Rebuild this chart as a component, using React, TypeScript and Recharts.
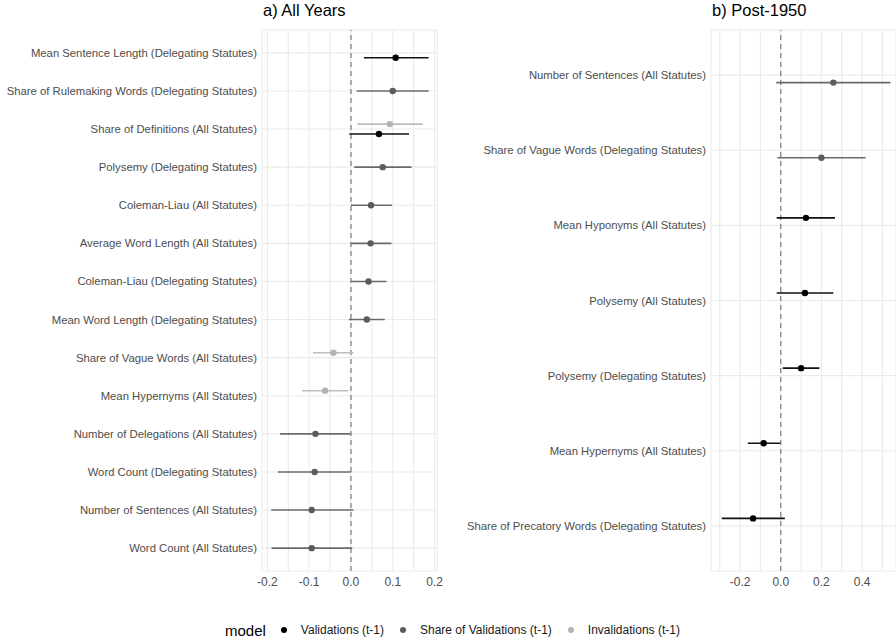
import {
  CartesianGrid,
  ErrorBar,
  ReferenceLine,
  Scatter,
  ScatterChart,
  XAxis,
  YAxis,
} from "recharts";

// ---- a) All Years ----
const allRows = [
  "Mean Sentence Length (Delegating Statutes)",
  "Share of Rulemaking Words (Delegating Statutes)",
  "Share of Definitions (All Statutes)",
  "Polysemy (Delegating Statutes)",
  "Coleman-Liau (All Statutes)",
  "Average Word Length (All Statutes)",
  "Coleman-Liau (Delegating Statutes)",
  "Mean Word Length (Delegating Statutes)",
  "Share of Vague Words (All Statutes)",
  "Mean Hypernyms (All Statutes)",
  "Number of Delegations (All Statutes)",
  "Word Count (Delegating Statutes)",
  "Number of Sentences (All Statutes)",
  "Word Count (All Statutes)",
];

const allValidTerms = [
  "Mean Sentence Length (Delegating Statutes)",
  "Share of Definitions (All Statutes)",
];
const allValidEst = [0.107, 0.067];
const allValidLo = [0.031, -0.004];
const allValidHi = [0.186, 0.139];

const allShareTerms = [
  "Share of Rulemaking Words (Delegating Statutes)",
  "Polysemy (Delegating Statutes)",
  "Coleman-Liau (All Statutes)",
  "Average Word Length (All Statutes)",
  "Coleman-Liau (Delegating Statutes)",
  "Mean Word Length (Delegating Statutes)",
  "Number of Delegations (All Statutes)",
  "Word Count (Delegating Statutes)",
  "Number of Sentences (All Statutes)",
  "Word Count (All Statutes)",
];
const allShareEst = [0.1, 0.076, 0.048, 0.047, 0.042, 0.038, -0.085, -0.087, -0.094, -0.094];
const allShareLo = [0.014, 0.008, 0.0, 0.0, 0.001, -0.005, -0.17, -0.175, -0.191, -0.19];
const allShareHi = [0.186, 0.145, 0.098, 0.097, 0.085, 0.081, -0.001, 0.0, 0.006, 0.003];

const allInvalidTerms = [
  "Share of Definitions (All Statutes)",
  "Share of Vague Words (All Statutes)",
  "Mean Hypernyms (All Statutes)",
];
const allInvalidEst = [0.093, -0.042, -0.062];
const allInvalidLo = [0.015, -0.091, -0.117];
const allInvalidHi = [0.172, 0.006, -0.007];

const allGrid = [-0.2, -0.15, -0.1, -0.05, 0, 0.05, 0.1, 0.15, 0.2];
const allLabels = [-0.2, -0.1, 0, 0.1, 0.2];

// ---- b) Post-1950 ----
const postRows = [
  "Number of Sentences (All Statutes)",
  "Share of Vague Words (Delegating Statutes)",
  "Mean Hyponyms (All Statutes)",
  "Polysemy (All Statutes)",
  "Polysemy (Delegating Statutes)",
  "Mean Hypernyms (All Statutes)",
  "Share of Precatory Words (Delegating Statutes)",
];

const postValidTerms = [
  "Mean Hyponyms (All Statutes)",
  "Polysemy (All Statutes)",
  "Polysemy (Delegating Statutes)",
  "Mean Hypernyms (All Statutes)",
  "Share of Precatory Words (Delegating Statutes)",
];
const postValidEst = [0.124, 0.119, 0.1, -0.084, -0.136];
const postValidLo = [-0.02, -0.02, 0.01, -0.162, -0.29];
const postValidHi = [0.267, 0.259, 0.19, -0.003, 0.02];

const postShareTerms = [
  "Number of Sentences (All Statutes)",
  "Share of Vague Words (Delegating Statutes)",
];
const postShareEst = [0.259, 0.2];
const postShareLo = [-0.022, -0.017];
const postShareHi = [0.54, 0.418];

const postGrid = [-0.3, -0.2, -0.1, 0, 0.1, 0.2, 0.3, 0.4, 0.5];
const postLabels = [-0.2, 0, 0.2, 0.4];

const models = ["Validations (t-1)", "Share of Validations (t-1)", "Invalidations (t-1)"];
const modelColors = ["#000000", "#5c5c5c", "#b3b3b3"];
const lineColors = ["#111111", "#6a6a6a", "#bdbdbd"];

type Series = {
  model: number;
  offset: number;
  terms: string[];
  est: number[];
  lo: number[];
  hi: number[];
};

type PanelProps = {
  title: string;
  rows: string[];
  series: Series[];
  domain: [number, number];
  grid: number[];
  labels: number[];
  left: number;
  yWidth: number;
  width: number;
  right: number;
};

const FONT = "'Liberation Sans', Arial, sans-serif";

function Dot(props: any) {
  const { cx, cy, fill } = props;
  if (cx == null || cy == null) return null;
  return <circle cx={cx} cy={cy} r={3.2} fill={fill} />;
}

function Panel({ title, rows, series, domain, grid, labels, left, yWidth, width, right }: PanelProps) {
  const rowTicks = rows.map((_, i) => i + 1);
  const fmtX = (v: number) =>
    labels.some((l) => Math.abs(l - v) < 1e-9) ? v.toFixed(1) : "";
  const YTick = (p: any) => (
    <text
      x={p.x}
      y={p.y}
      dy="0.355em"
      textAnchor="end"
      fill="#4d4d4d"
      fontSize={11.3}
    >
      {rows[p.payload.value - 1] ?? ""}
    </text>
  );
  return (
    <div style={{ position: "absolute", left, top: 0 }}>
      <div
        style={{
          position: "absolute",
          left: yWidth + 1,
          top: 1,
          fontSize: 16.5,
          color: "#000",
          whiteSpace: "nowrap",
        }}
      >
        {title}
      </div>
      <ScatterChart
        width={width}
        height={600}
        margin={{ top: 30, right, bottom: 0, left: 0 }}
      >
        <CartesianGrid stroke="#ebebeb" strokeWidth={1.1} />
        <XAxis
          type="number"
          dataKey="est"
          domain={domain}
          allowDataOverflow
          ticks={grid}
          interval={0}
          tickFormatter={fmtX}
          axisLine={false}
          tickLine={false}
          tickSize={4}
          tickMargin={2}
          height={29}
          tick={{ fill: "#4d4d4d", fontSize: 12 }}
        />
        <YAxis
          type="number"
          dataKey="y"
          domain={[0.4, rows.length + 0.6]}
          allowDataOverflow
          reversed
          ticks={rowTicks}
          interval={0}
          axisLine={false}
          tickLine={false}
          tickSize={3}
          tickMargin={2}
          width={yWidth}
          tick={<YTick />}
        />
        <ReferenceLine x={0} stroke="#8c8c8c" strokeWidth={1.4} strokeDasharray="5 4" />
        {series.map((s) => {
          const data = s.terms.map((t, i) => ({
            y: rows.indexOf(t) + 1 + s.offset,
            est: s.est[i],
            err: [s.est[i] - s.lo[i], s.hi[i] - s.est[i]],
          }));
          return (
            <Scatter
              key={s.model}
              name={models[s.model]}
              data={data}
              fill={modelColors[s.model]}
              shape={<Dot />}
              isAnimationActive={false}
            >
              <ErrorBar
                dataKey="err"
                direction="x"
                width={0}
                stroke={lineColors[s.model]}
                strokeWidth={1.6}
                isAnimationActive={false}
              />
            </Scatter>
          );
        })}
      </ScatterChart>
    </div>
  );
}

export default function App() {
  return (
    <div
      style={{
        position: "absolute",
        left: 0,
        top: 0,
        width: 896,
        height: 640,
        background: "#fff",
        fontFamily: FONT,
        overflow: "hidden",
      }}
    >
      <Panel
        title="a) All Years"
        rows={allRows}
        domain={[-0.213, 0.206]}
        grid={allGrid}
        labels={allLabels}
        left={0}
        yWidth={262}
        width={448}
        right={11}
        series={[
          { model: 0, offset: 0.13, terms: allValidTerms, est: allValidEst, lo: allValidLo, hi: allValidHi },
          { model: 1, offset: 0, terms: allShareTerms, est: allShareEst, lo: allShareLo, hi: allShareHi },
          { model: 2, offset: -0.13, terms: allInvalidTerms, est: allInvalidEst, lo: allInvalidLo, hi: allInvalidHi },
        ]}
      />
      <Panel
        title="b) Post-1950"
        rows={postRows}
        domain={[-0.343, 0.567]}
        grid={postGrid}
        labels={postLabels}
        left={448}
        yWidth={263}
        width={448}
        right={0}
        series={[
          { model: 0, offset: -0.1, terms: postValidTerms, est: postValidEst, lo: postValidLo, hi: postValidHi },
          { model: 1, offset: 0.1, terms: postShareTerms, est: postShareEst, lo: postShareLo, hi: postShareHi },
        ]}
      />
      <div
        style={{
          position: "absolute",
          left: 225,
          top: 620,
          height: 20,
          display: "flex",
          alignItems: "center",
          color: "#000",
        }}
      >
        <span style={{ fontSize: 15, marginRight: 15 }}>model</span>
        {models.map((m, i) => (
          <span key={m} style={{ display: "flex", alignItems: "center", marginRight: 16 }}>
            <span
              style={{
                width: 6,
                height: 6,
                borderRadius: 3,
                background: modelColors[i],
                marginRight: 14,
              }}
            />
            <span style={{ fontSize: 12, color: "#1a1a1a" }}>{m}</span>
          </span>
        ))}
      </div>
    </div>
  );
}
